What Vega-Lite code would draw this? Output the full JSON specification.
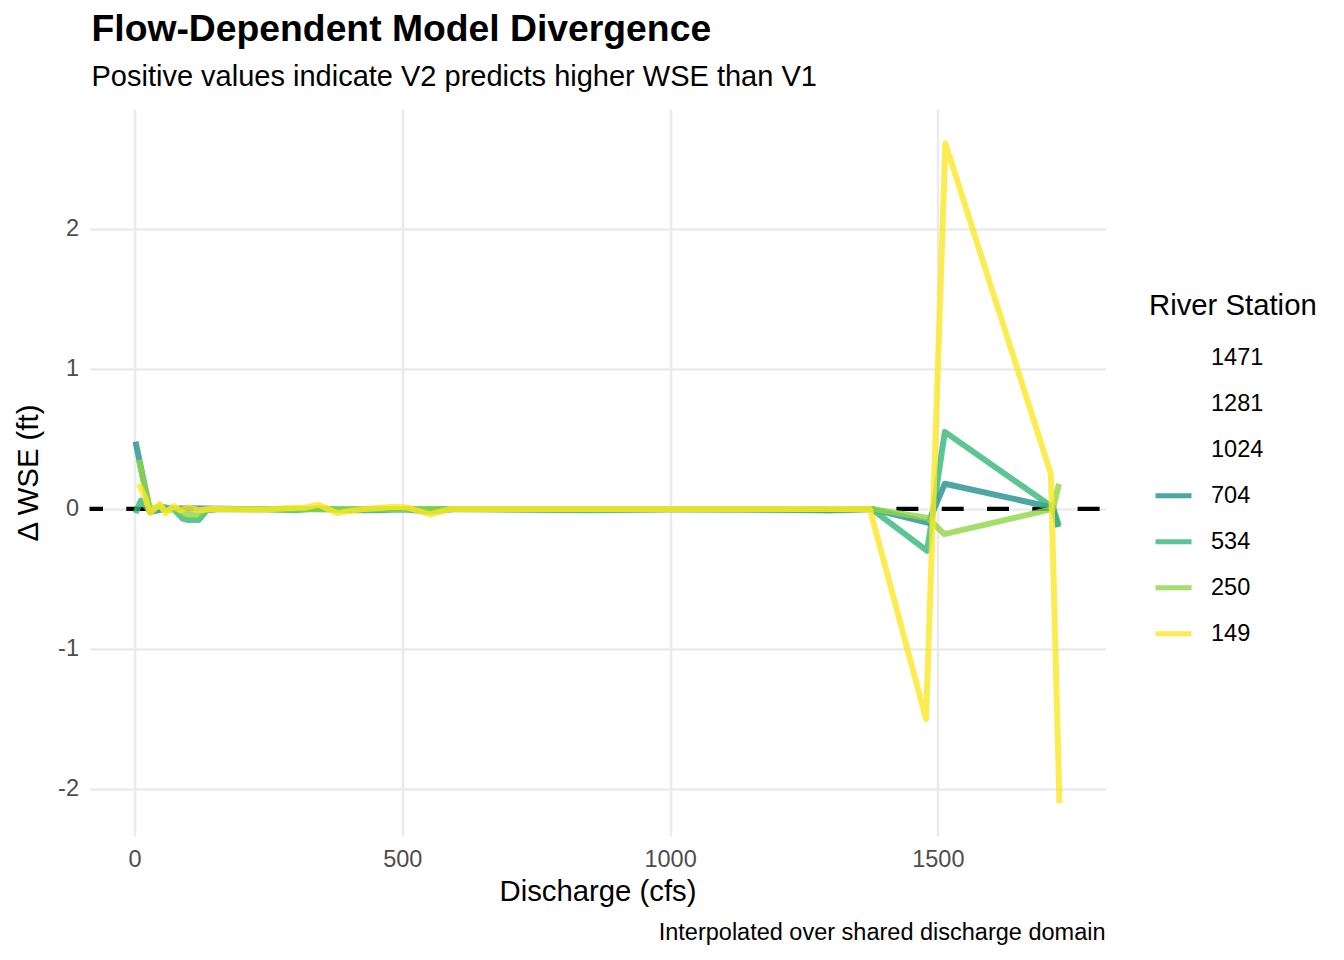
{
  "$schema": "https://vega.github.io/schema/vega-lite/v6.json",
  "width": 1016,
  "height": 727,
  "autosize": {"type": "none"},
  "padding": {"left": 89.5, "top": 109, "right": 238.5, "bottom": 124},
  "background": "white",
  "config": {"view": {"stroke": null}, "font": "Liberation Sans"},
  "title": {
    "text": "Flow-Dependent Model Divergence",
    "subtitle": "Positive values indicate V2 predicts higher WSE than V1",
    "anchor": "start",
    "frame": "group",
    "font": "Liberation Sans",
    "subtitleFont": "Liberation Sans",
    "fontSize": 37.3,
    "fontWeight": "bold",
    "subtitleFontSize": 29,
    "color": "black",
    "subtitleColor": "black",
    "offset": 15.8,
    "subtitlePadding": 14.4,
    "dx": 2
  },
  "datasets": {
    "wse": [
      {"station": "704", "q": 2, "dwse": 0.48},
      {"station": "704", "q": 29, "dwse": -0.02},
      {"station": "704", "q": 60, "dwse": 0.0},
      {"station": "704", "q": 100, "dwse": 0.005},
      {"station": "704", "q": 200, "dwse": 0.0},
      {"station": "704", "q": 300, "dwse": 0.0},
      {"station": "704", "q": 400, "dwse": -0.005},
      {"station": "704", "q": 500, "dwse": -0.005},
      {"station": "704", "q": 600, "dwse": 0.0},
      {"station": "704", "q": 800, "dwse": -0.005},
      {"station": "704", "q": 1000, "dwse": 0.0},
      {"station": "704", "q": 1200, "dwse": -0.005},
      {"station": "704", "q": 1300, "dwse": -0.01},
      {"station": "704", "q": 1376, "dwse": 0.0},
      {"station": "704", "q": 1482, "dwse": -0.1},
      {"station": "704", "q": 1513, "dwse": 0.18},
      {"station": "704", "q": 1715, "dwse": 0.01},
      {"station": "704", "q": 1724, "dwse": -0.13},
      {"station": "534", "q": 2, "dwse": -0.03},
      {"station": "534", "q": 12, "dwse": 0.06},
      {"station": "534", "q": 29, "dwse": -0.02},
      {"station": "534", "q": 47, "dwse": 0.02},
      {"station": "534", "q": 73, "dwse": 0.0},
      {"station": "534", "q": 90, "dwse": -0.07},
      {"station": "534", "q": 100, "dwse": -0.08},
      {"station": "534", "q": 120, "dwse": -0.08},
      {"station": "534", "q": 135, "dwse": -0.01},
      {"station": "534", "q": 160, "dwse": 0.0},
      {"station": "534", "q": 250, "dwse": -0.005},
      {"station": "534", "q": 300, "dwse": -0.01},
      {"station": "534", "q": 344, "dwse": 0.005},
      {"station": "534", "q": 400, "dwse": -0.01},
      {"station": "534", "q": 450, "dwse": -0.01},
      {"station": "534", "q": 500, "dwse": 0.0},
      {"station": "534", "q": 550, "dwse": -0.02},
      {"station": "534", "q": 600, "dwse": 0.0},
      {"station": "534", "q": 700, "dwse": -0.005},
      {"station": "534", "q": 850, "dwse": -0.01},
      {"station": "534", "q": 1000, "dwse": -0.005},
      {"station": "534", "q": 1150, "dwse": -0.005},
      {"station": "534", "q": 1300, "dwse": -0.01},
      {"station": "534", "q": 1376, "dwse": 0.0},
      {"station": "534", "q": 1480, "dwse": -0.3},
      {"station": "534", "q": 1513, "dwse": 0.55},
      {"station": "534", "q": 1715, "dwse": 0.01},
      {"station": "534", "q": 1726, "dwse": -0.12},
      {"station": "250", "q": 8, "dwse": 0.35},
      {"station": "250", "q": 29, "dwse": 0.0},
      {"station": "250", "q": 47, "dwse": 0.015},
      {"station": "250", "q": 60, "dwse": -0.01},
      {"station": "250", "q": 80, "dwse": 0.0},
      {"station": "250", "q": 95, "dwse": -0.04},
      {"station": "250", "q": 115, "dwse": -0.045},
      {"station": "250", "q": 130, "dwse": -0.01},
      {"station": "250", "q": 150, "dwse": 0.0},
      {"station": "250", "q": 400, "dwse": 0.0},
      {"station": "250", "q": 700, "dwse": 0.0},
      {"station": "250", "q": 1000, "dwse": 0.0},
      {"station": "250", "q": 1300, "dwse": 0.0},
      {"station": "250", "q": 1376, "dwse": 0.0},
      {"station": "250", "q": 1481, "dwse": -0.065},
      {"station": "250", "q": 1512, "dwse": -0.18},
      {"station": "250", "q": 1715, "dwse": 0.0},
      {"station": "250", "q": 1726, "dwse": 0.18},
      {"station": "149", "q": 8, "dwse": 0.18},
      {"station": "149", "q": 20, "dwse": 0.08},
      {"station": "149", "q": 29, "dwse": -0.03},
      {"station": "149", "q": 47, "dwse": 0.035},
      {"station": "149", "q": 58, "dwse": -0.03},
      {"station": "149", "q": 73, "dwse": 0.02},
      {"station": "149", "q": 85, "dwse": -0.01},
      {"station": "149", "q": 101, "dwse": 0.01},
      {"station": "149", "q": 121, "dwse": -0.01},
      {"station": "149", "q": 140, "dwse": 0.0},
      {"station": "149", "q": 170, "dwse": 0.0},
      {"station": "149", "q": 200, "dwse": -0.005},
      {"station": "149", "q": 245, "dwse": -0.005},
      {"station": "149", "q": 280, "dwse": 0.005},
      {"station": "149", "q": 320, "dwse": 0.01},
      {"station": "149", "q": 344, "dwse": 0.03},
      {"station": "149", "q": 378, "dwse": -0.03},
      {"station": "149", "q": 430, "dwse": 0.0},
      {"station": "149", "q": 484, "dwse": 0.015},
      {"station": "149", "q": 510, "dwse": 0.01},
      {"station": "149", "q": 552, "dwse": -0.04},
      {"station": "149", "q": 590, "dwse": 0.0},
      {"station": "149", "q": 700, "dwse": 0.0},
      {"station": "149", "q": 800, "dwse": 0.0},
      {"station": "149", "q": 900, "dwse": 0.0},
      {"station": "149", "q": 1000, "dwse": 0.0},
      {"station": "149", "q": 1100, "dwse": 0.0},
      {"station": "149", "q": 1200, "dwse": 0.0},
      {"station": "149", "q": 1300, "dwse": 0.0},
      {"station": "149", "q": 1373, "dwse": 0.0},
      {"station": "149", "q": 1478, "dwse": -1.5},
      {"station": "149", "q": 1514, "dwse": 2.61},
      {"station": "149", "q": 1711, "dwse": 0.25},
      {"station": "149", "q": 1727, "dwse": -2.1}
    ]
  },
  "layer": [
    {
      "data": {"values": [{}]},
      "mark": {"type": "rule", "color": "black", "strokeWidth": 4.3, "strokeDash": [22, 23.3], "strokeDashOffset": 39.4},
      "encoding": {
        "y": {
          "datum": 0,
          "type": "quantitative",
          "scale": {"domain": [-2.336, 2.856], "nice": false, "zero": false},
          "axis": {
            "title": "Δ WSE (ft)",
            "values": [-2, -1, 0, 1, 2],
            "labelExpr": "datum.value < 0 ? '-' + format(-datum.value, 'd') : format(datum.value, 'd')",
            "domain": false, "ticks": false, "tickSize": 0,
            "grid": true, "gridColor": "#ebebeb", "gridWidth": 2.5,
            "labelFontSize": 23.5, "labelColor": "#4d4d4d", "labelPadding": 11, "labelFont": "Liberation Sans",
            "titleFontSize": 29.3, "titleFontWeight": "normal", "titleColor": "black", "titlePadding": 14, "titleFont": "Liberation Sans"
          }
        }
      }
    },
    {
      "data": {"name": "wse"},
      "mark": {"type": "line", "strokeWidth": 6, "opacity": 0.8, "strokeJoin": "round", "strokeCap": "butt"},
      "encoding": {
        "x": {
          "field": "q",
          "type": "quantitative",
          "scale": {"domain": [-84, 1813], "nice": false, "zero": false},
          "axis": {
            "title": "Discharge (cfs)",
            "values": [0, 500, 1000, 1500],
            "format": "d",
            "domain": false, "ticks": false, "tickSize": 0, "labelFlush": false,
            "grid": true, "gridColor": "#ebebeb", "gridWidth": 2.5,
            "labelFontSize": 23.5, "labelColor": "#4d4d4d", "labelPadding": 11.4, "labelFont": "Liberation Sans",
            "titleFontSize": 29.3, "titleFontWeight": "normal", "titleColor": "black", "titlePadding": 7, "titleFont": "Liberation Sans"
          }
        },
        "y": {
          "field": "dwse",
          "type": "quantitative",
          "scale": {"domain": [-2.336, 2.856], "nice": false, "zero": false},
          "axis": {
            "title": "Δ WSE (ft)",
            "values": [-2, -1, 0, 1, 2],
            "labelExpr": "datum.value < 0 ? '-' + format(-datum.value, 'd') : format(datum.value, 'd')",
            "domain": false, "ticks": false, "tickSize": 0,
            "grid": true, "gridColor": "#ebebeb", "gridWidth": 2.5,
            "labelFontSize": 23.5, "labelColor": "#4d4d4d", "labelPadding": 11, "labelFont": "Liberation Sans",
            "titleFontSize": 29.3, "titleFontWeight": "normal", "titleColor": "black", "titlePadding": 14, "titleFont": "Liberation Sans"
          }
        },
        "color": {
          "field": "station",
          "type": "nominal",
          "scale": {
            "domain": ["1471", "1281", "1024", "704", "534", "250", "149"],
            "range": ["transparent", "transparent", "transparent", "#21908C", "#35B779", "#8FD744", "#FDE725"]
          },
          "legend": {
            "title": "River Station",
            "orient": "none",
            "legendX": 1059.5,
            "legendY": 183,
            "padding": 0,
            "titleFont": "Liberation Sans",
            "titleFontSize": 29.3,
            "titleFontWeight": "normal",
            "titleColor": "black",
            "titlePadding": 16,
            "labelFont": "Liberation Sans",
            "labelFontSize": 23.5,
            "labelColor": "black",
            "labelOffset": 17,
            "symbolType": "stroke",
            "symbolSize": 1296,
            "symbolStrokeWidth": 5,
            "symbolOpacity": 0.8,
            "symbolOffset": 4,
            "rowPadding": 14
          }
        }
      }
    },
    {
      "data": {"values": [{}]},
      "mark": {"type": "text", "align": "right", "baseline": "alphabetic", "fontSize": 23.5, "font": "Liberation Sans", "color": "black"},
      "encoding": {
        "x": {"datum": 1813, "type": "quantitative", "scale": {"domain": [-84, 1813], "nice": false, "zero": false}},
        "y": {"datum": -3.079, "type": "quantitative", "scale": {"domain": [-2.336, 2.856], "nice": false, "zero": false}},
        "text": {"value": "Interpolated over shared discharge domain"}
      }
    }
  ]
}
